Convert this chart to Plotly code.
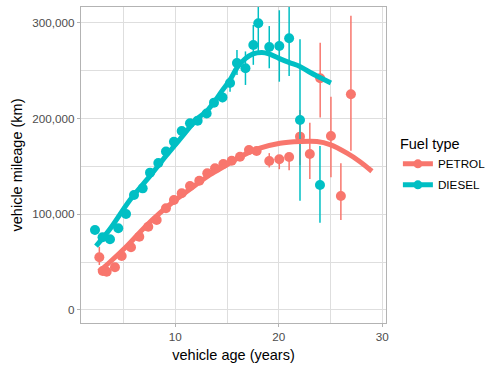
import plotly.graph_objects as go

# ---- data ----
diesel_age = [2.24, 2.97, 3.69, 4.49, 5.24, 6.01, 6.85, 7.56, 8.36, 9.10, 9.87, 10.62, 11.42, 12.16,
              13.03, 13.74, 14.56, 15.29, 15.96, 16.78, 17.54, 18.02, 19.08, 20.05, 21.0, 22.05, 23.98]
diesel_km = [83500, 76000, 73800, 85300, 100200, 120000, 127000, 143400, 153500, 165500, 175700, 186900,
             195000, 197700, 205200, 216500, 222000, 237000, 257900, 252400, 276700, 299400, 274600,
             275700, 283700, 198400, 130500]
diesel_lo = [83500, 76000, 73800, 85300, 100200, 120000, 127000, 143400, 153500, 165500, 175700, 186900,
             195000, 197700, 203000, 214000, 217000, 228000, 245400, 235000, 256000, 269700, 252400,
             238400, 244300, 114100, 91200]
diesel_hi = [83500, 76000, 73800, 85300, 100200, 120000, 127000, 143400, 153500, 165500, 175700, 186900,
             195000, 197700, 207500, 219000, 227000, 242000, 271500, 270000, 297600, 335000, 296500,
             313000, 335000, 282600, 171200]

petrol_age = [2.66, 2.99, 3.37, 4.17, 4.82, 5.72, 6.52, 7.39, 8.20, 9.10, 9.87, 10.62, 11.42, 12.32,
              13.09, 13.84, 14.64, 15.45, 16.25, 17.12, 17.86, 19.08, 20.05, 21.0, 22.05, 23.0, 24.0,
              25.04, 26.0, 26.97]
petrol_km = [55000, 40700, 40000, 44600, 56400, 65500, 76500, 87000, 94000, 106200, 114900, 121900,
             129500, 135000, 142700, 148000, 152400, 155900, 160000, 167000, 166000, 155600, 157400,
             159800, 181000, 162900, 242000, 181700, 119000, 225200]
petrol_lo = [47000, 40700, 40000, 44600, 56400, 65500, 76500, 87000, 94000, 106200, 114900, 121900,
             129500, 135000, 142700, 148000, 152400, 155900, 158000, 163000, 162000, 148800, 147000,
             146000, 151400, 136800, 201000, 138500, 94000, 166300]
petrol_hi = [66000, 40700, 40000, 44600, 56400, 65500, 76500, 87000, 94000, 106200, 114900, 121900,
             129500, 135000, 142700, 148000, 152400, 155900, 162000, 170000, 169000, 163800, 161800,
             163600, 208800, 195600, 279000, 222700, 153200, 307300]

# smoothed trend lines
diesel_smooth_age = [2.34, 3.69, 5.62, 7.56, 9.10, 10.55, 12.10, 13.06, 13.84, 14.51, 15.29, 15.96,
                     16.74, 17.51, 18.38, 19.05, 20.02, 20.98, 22.04, 23.0, 23.98, 25.04]
diesel_smooth_km = [66800, 84600, 114900, 140000, 160900, 179700, 199500, 207900, 218400, 228800,
                    240300, 252900, 262200, 267500, 269000, 267500, 262800, 258500, 254300, 248300,
                    242800, 237100]
petrol_smooth_age = [2.63, 3.69, 5.33, 7.07, 8.52, 9.78, 11.71, 13.35, 14.99, 16.25, 18.18, 20.11,
                     22.05, 23.69, 24.95, 26.59, 27.85, 29.0]
petrol_smooth_km = [40200, 50100, 66800, 86700, 101300, 112800, 128500, 141200, 151600, 160000,
                    168900, 174100, 175900, 175900, 172700, 163800, 154900, 144900]

fuel_names = ["PETROL", "DIESEL"]
colors = {"PETROL": "#F8766D", "DIESEL": "#00BFC4"}

x_ticks = [10, 20, 30]
y_ticks = [0, 100000, 200000, 300000]

FONT = "Liberation Sans, Arial, sans-serif"

fig = go.Figure()

series = {
    "PETROL": (petrol_age, petrol_km, petrol_lo, petrol_hi, petrol_smooth_age, petrol_smooth_km),
    "DIESEL": (diesel_age, diesel_km, diesel_lo, diesel_hi, diesel_smooth_age, diesel_smooth_km),
}

for name in fuel_names:
    ages, km, lo, hi, sa, sk = series[name]
    c = colors[name]
    fig.add_trace(go.Scatter(
        x=ages, y=km, mode="markers",
        marker=dict(color=c, size=10),
        error_y=dict(type="data", symmetric=False,
                     array=[h - v for h, v in zip(hi, km)],
                     arrayminus=[v - l for v, l in zip(km, lo)],
                     color=c, thickness=1.5, width=0),
        showlegend=False, legendgroup=name, hoverinfo="skip",
    ))

for name in fuel_names:
    ages, km, lo, hi, sa, sk = series[name]
    c = colors[name]
    fig.add_trace(go.Scatter(
        x=sa, y=sk, mode="lines", line=dict(color=c, width=5, shape="spline"),
        showlegend=False, legendgroup=name, hoverinfo="skip",
    ))

for name in fuel_names:
    c = colors[name]
    fig.add_trace(go.Scatter(
        x=[None], y=[None], mode="lines+markers", name=name, legendgroup=name,
        line=dict(color=c, width=5), marker=dict(color=c, size=9),
    ))

grid = "#DEDEDE"
fig.update_layout(
    width=498, height=370,
    margin=dict(l=81, r=112, t=7, b=47, autoexpand=False),
    paper_bgcolor="white", plot_bgcolor="white",
    font=dict(family=FONT, color="#000000"),
    showlegend=True,
    legend=dict(
        title=dict(text="Fuel type", font=dict(size=14.5, color="#000000")),
        font=dict(size=11.7, color="#000000"),
        x=1.039, xanchor="left", y=0.50, yanchor="middle",
        itemwidth=30, tracegroupgap=2,
    ),
    xaxis=dict(
        range=[0.889, 30.36], tickvals=x_ticks, ticktext=[str(v) for v in x_ticks],
        automargin=False,
        showgrid=True, gridcolor=grid, gridwidth=1.2,
        minor=dict(dtick=5, tick0=0, showgrid=True, gridcolor=grid, gridwidth=0.6, ticks=""),
        zeroline=False, showline=True, linecolor="#B3B3B3", linewidth=1.2, mirror=True,
        ticks="outside", ticklen=3, tickcolor="#B3B3B3", tickwidth=1,
        tickfont=dict(size=11.7, color="#4D4D4D", family=FONT),
        title=dict(text="vehicle age (years)", font=dict(size=14.5, color="#000000"), standoff=7),
    ),
    yaxis=dict(
        range=[-13600, 316400], tickvals=y_ticks, tickformat=",d",
        automargin=False,
        showgrid=True, gridcolor=grid, gridwidth=1.2,
        minor=dict(dtick=50000, tick0=0, showgrid=True, gridcolor=grid, gridwidth=0.6, ticks=""),
        zeroline=False, showline=True, linecolor="#B3B3B3", linewidth=1.2, mirror=True,
        ticks="outside", ticklen=3, tickcolor="#B3B3B3", tickwidth=1,
        tickfont=dict(size=11.7, color="#4D4D4D", family=FONT),
        title=dict(text="vehicle mileage (km)", font=dict(size=14.5, color="#000000"), standoff=6),
    ),
)

fig.write_html("out.html", config={"displayModeBar": False},
               post_script="document.body.style.margin='0px';")
